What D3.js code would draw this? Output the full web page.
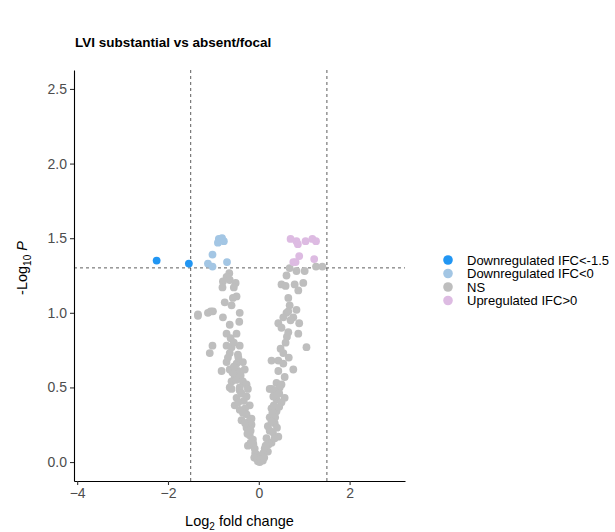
<!DOCTYPE html>
<html>
<head>
<meta charset="utf-8">
<script src="https://cdn.jsdelivr.net/npm/d3@7"></script>
<style>
  body { margin: 0; background: #fff; }
  svg { font-family: "Liberation Sans", Arial, sans-serif; }
</style>
</head>
<body>
<div id="chart"></div>
<script>
// categories (legend order)
var categories = ["Downregulated IFC<-1.5", "Downregulated IFC<0", "NS", "Upregulated IFC>0"];
var colors = ["#2196F3", "#A3C6E4", "#BEBEBE", "#DDBBE2"];

// [log2 fold change, -log10 p]
var downStrong = [[-2.25, 1.35], [-1.54, 1.33]];
var downWeak = [
  [-0.88, 1.495], [-0.77, 1.48], [-0.90, 1.47], [-0.81, 1.50],
  [-1.02, 1.39], [-1.12, 1.33], [-1.02, 1.31], [-0.70, 1.34]
];
var upReg = [
  [0.70, 1.495], [0.83, 1.48], [0.86, 1.46], [1.03, 1.48], [1.18, 1.495],
  [1.26, 1.48], [0.89, 1.38], [0.76, 1.34], [0.81, 1.34], [1.22, 1.36]
];
var notSig = [
  [1.26, 1.31], [1.40, 1.31],
  [-0.65, 1.265], [-0.71, 1.24], [-0.79, 1.21], [-0.64, 1.22], [-0.51, 1.20], [-0.80, 1.17],
  [-0.55, 1.17], [-0.49, 1.11], [-0.57, 1.10], [-0.75, 1.07], [-0.60, 1.05], [-1.06, 1.01], [-1.34, 0.99],
  [0.68, 1.30], [0.61, 1.25], [0.83, 1.28], [1.01, 1.28], [0.50, 1.19], [0.59, 1.18], [0.79, 1.19],
  [0.98, 1.20], [0.87, 1.15], [0.65, 1.10], [0.68, 1.05], [0.83, 1.02], [0.61, 1.00],
  [-1.34, 0.98], [-1.12, 1.00], [-1.01, 1.01], [-0.79, 0.97], [-0.42, 1.00], [-0.43, 0.94], [-0.64, 0.92],
  [-0.71, 0.86], [-0.49, 0.86], [-1.02, 0.78], [-1.08, 0.73], [-0.71, 0.78], [-0.60, 0.77], [-0.42, 0.78],
  [-0.64, 0.73], [-0.46, 0.72], [-0.71, 0.67], [-0.49, 0.66], [-0.35, 0.67], [-0.82, 0.61], [-0.64, 0.62],
  [-0.46, 0.61], [-0.31, 0.62], [-0.53, 0.57], [-0.60, 0.54], [-0.35, 0.54], [-0.64, 0.50], [-0.42, 0.50],
  [-0.27, 0.52], [-0.62, 0.83], [-0.55, 0.80], [-0.68, 0.70], [-0.58, 0.60],
  [0.65, 1.01], [0.54, 0.97], [0.76, 0.97], [0.89, 0.93], [0.43, 0.93], [0.50, 0.90], [0.65, 0.87],
  [0.87, 0.86], [0.59, 0.80], [1.05, 0.77], [0.54, 0.73], [0.28, 0.68], [0.43, 0.68], [0.54, 0.66],
  [0.43, 0.61], [0.76, 0.62], [0.57, 0.57], [0.39, 0.53], [0.50, 0.52], [0.24, 0.49],
  [0.70, 0.95], [0.62, 0.84], [0.48, 0.76], [0.66, 0.70],
  [-0.60, 0.49], [-0.42, 0.48], [-0.24, 0.49], [-0.49, 0.43], [-0.27, 0.44], [-0.20, 0.38], [-0.53, 0.38],
  [-0.42, 0.35], [-0.27, 0.32], [-0.38, 0.28], [-0.16, 0.29], [-0.27, 0.23], [-0.16, 0.25], [-0.20, 0.18],
  [-0.13, 0.15], [-0.24, 0.11], [-0.09, 0.09], [-0.05, 0.05], [-0.02, 0.005],
  [-0.45, 0.70], [-0.55, 0.64], [-0.40, 0.58], [-0.50, 0.55], [-0.38, 0.46], [-0.33, 0.41], [-0.45, 0.40],
  [-0.30, 0.36], [-0.35, 0.33], [-0.22, 0.27], [-0.30, 0.26], [-0.18, 0.21], [-0.25, 0.19], [-0.12, 0.12],
  [-0.18, 0.13], [-0.08, 0.06], [-0.10, 0.03], [-0.04, 0.02],
  [0.28, 0.49], [0.46, 0.50], [0.57, 0.43], [0.39, 0.42], [0.28, 0.36], [0.39, 0.34], [0.24, 0.30],
  [0.35, 0.26], [0.20, 0.24], [0.31, 0.20], [0.43, 0.17], [0.17, 0.16], [0.28, 0.13], [0.13, 0.09],
  [0.20, 0.07], [0.06, 0.04], [0.09, 0.01], [0.02, 0.0],
  [0.35, 0.48], [0.45, 0.46], [0.32, 0.44], [0.50, 0.40], [0.33, 0.38], [0.45, 0.37], [0.30, 0.33],
  [0.36, 0.30], [0.28, 0.27], [0.40, 0.23], [0.24, 0.21], [0.35, 0.16], [0.22, 0.12], [0.15, 0.11],
  [0.10, 0.06], [0.04, 0.02], [0.12, 0.03]
];

var xTicks = [-4, -2, 0, 2];
var yTicks = [0, 0.5, 1.0, 1.5, 2.0, 2.5];
var fcCut = 1.5;
var pCut = -Math.log10(0.05);

var W = 615, H = 532;
var svg = d3.select("#chart").append("svg").attr("width", W).attr("height", H);

var x = d3.scaleLinear().domain([-4.07, 3.22]).range([74, 405]);
var y = d3.scaleLinear().domain([-0.127, 2.627]).range([481, 70]);

// title
svg.append("text")
  .attr("x", 75).attr("y", 47)
  .attr("font-size", 13.5).attr("font-weight", "bold")
  .text("LVI substantial vs absent/focal");

// cutoff lines
var cut = svg.append("g").attr("stroke", "#333").attr("stroke-width", 0.8).attr("stroke-dasharray", "3,3");
[-fcCut, fcCut].forEach(function(v) {
  cut.append("line").attr("x1", x(v)).attr("x2", x(v)).attr("y1", y.range()[1]).attr("y2", y.range()[0]);
});
cut.append("line").attr("x1", x.range()[0]).attr("x2", x.range()[1]).attr("y1", y(pCut)).attr("y2", y(pCut));

// points
var groups = [notSig, downStrong, downWeak, upReg];
var groupCol = [colors[2], colors[0], colors[1], colors[3]];
groups.forEach(function(g, i) {
  svg.append("g").selectAll("circle").data(g).join("circle")
    .attr("cx", function(d) { return x(d[0]); })
    .attr("cy", function(d) { return y(d[1]); })
    .attr("r", 3.9)
    .attr("fill", groupCol[i]);
});

// axes
var xAxis = svg.append("g").attr("transform", "translate(0," + y.range()[0] + ")")
  .call(d3.axisBottom(x).tickValues(xTicks).tickSize(4).tickSizeOuter(0).tickPadding(3).tickFormat(d3.format("d")));
var yAxis = svg.append("g").attr("transform", "translate(" + x.range()[0] + ",0)")
  .call(d3.axisLeft(y).tickValues(yTicks).tickSize(4).tickSizeOuter(0).tickPadding(3).tickFormat(d3.format(".1f")));
[xAxis, yAxis].forEach(function(a) {
  a.select(".domain").attr("stroke", "#000").attr("stroke-width", 1.1);
  a.selectAll(".tick line").attr("stroke", "#333").attr("stroke-width", 1.1);
  a.selectAll(".tick text").attr("fill", "#4D4D4D").attr("font-size", 14)
    .attr("font-family", "Liberation Sans, Arial, sans-serif");
});

// axis titles
var xl = svg.append("text").attr("x", (x.range()[0] + x.range()[1]) / 2).attr("y", 526)
  .attr("text-anchor", "middle").attr("font-size", 14.5);
xl.append("tspan").text("Log");
xl.append("tspan").attr("font-size", 10).attr("dy", 4).text("2");
xl.append("tspan").attr("dy", -4).text(" fold change");

var yl = svg.append("text").attr("transform", "translate(27,268) rotate(-90)")
  .attr("text-anchor", "middle").attr("font-size", 14.5);
yl.append("tspan").text("-Log");
yl.append("tspan").attr("font-size", 10).attr("dy", 4).text("10");
yl.append("tspan").attr("dy", -4).attr("font-style", "italic").text(" P");

// legend
var leg = svg.append("g").attr("transform", "translate(448,260)");
categories.forEach(function(c, i) {
  var row = leg.append("g").attr("transform", "translate(0," + (i * 13.5) + ")");
  row.append("circle").attr("r", 4.8).attr("fill", colors[i]);
  row.append("text").attr("x", 19).attr("y", 4.5).attr("font-size", 13).text(c);
});
</script>
</body>
</html>
